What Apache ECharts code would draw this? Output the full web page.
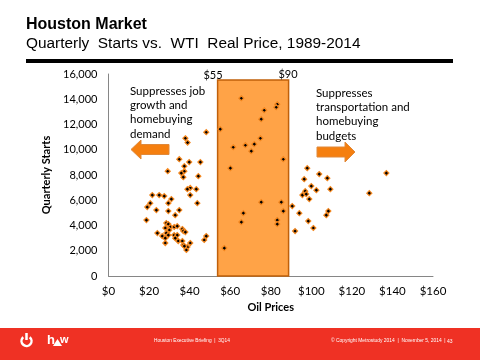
<!DOCTYPE html>
<html>
<head>
<meta charset="utf-8">
<style>html,body{margin:0;padding:0;background:#fff}#c{width:480px;height:360px}</style>
<script src="https://cdn.jsdelivr.net/npm/echarts@6/dist/echarts.min.js"></script>
</head>
<body>
<div id="c"></div>
<script>
var oilPrice = [48.2,37.9,39.0,34.9,39.8,45.3,37.4,29.2,37.4,35.9,36.9,44.3,40.3,38.9,43.3,40.3,43.8,21.6,25.0,27.5,31.0,29.5,20.6,19.1,23.6,29.5,34.9,32.9,18.7,28.5,29.5,30.5,28.0,32.4,33.9,30.0,24.1,28.5,29.5,26.5,28.0,32.4,33.9,32.9,34.4,28.0,36.4,36.9,37.9,36.4,36.9,40.3,38.9,38.4,37.4,48.2,47.2,
65.5,83.2,82.7,76.8,75.3,55.1,74.9,67.5,71.9,61.5,70.4,86.2,60.1,75.3,85.2,90.6,86.2,66.5,65.5,83.2,83.2,92.0,57.1,
98.0,103.9,107.9,137.0,96.5,100.0,102.5,109.4,97.0,95.6,97.5,128.6,99.0,94.1,108.4,107.4,98.5,101.0];
var quarterlyStarts = [11390,10910,10570,9250,9020,9020,8700,8300,8300,8150,7830,7910,6980,6880,6880,6410,5770,6410,6410,6330,6090,5770,5770,5460,5220,5140,5220,4820,4430,4190,4110,3880,3800,3880,3950,3640,3400,3400,3240,3160,3000,3240,3240,3000,2770,2610,3720,3560,3480,2770,2450,2610,2290,2060,2370,3160,2850,
14080,13600,13370,13130,12420,11630,10910,10360,10440,10200,9890,9250,8540,5850,5850,5540,5140,4980,4270,4430,4110,3560,2210,
8540,8070,7750,8150,7670,7120,6800,6880,6720,6410,6490,6560,6090,4980,5140,4820,4350,3800];
var bandStart = 53.8, bandEnd = 88.8, bandTop = 15520;
var yMax = 16000, yStep = 2000, xMax = 160, xStep = 20;
var titleText = 'Houston Market';
var subtitleText = 'Quarterly  Starts vs.  WTI  Real Price, 1989-2014';
var leftNote = ['Suppresses job','growth and','homebuying','demand'];
var rightNote = ['Suppresses','transportation and','homebuying','budgets'];
var bandLabels = ['$55','$90'];
var footerLeft = 'Houston Executive Briefing  |  3Q14';
var footerRight = '\u00A9 Copyright Metrostudy 2014  |  November 5, 2014  |';
var pageNumber = '43';

var noteFont = '11.5px Lato, sans-serif';
var ORANGE = '#F57F0F';
function txt(x,y,s,font,fill,align){
  return {type:'text',x:x,y:y,silent:true,z:20,style:{text:s,font:font,fill:fill||'#000',align:align||'left',verticalAlign:'middle'}};
}
function poly(points,fill,stroke){
  return {type:'polygon',silent:true,z:20,shape:{points:points},style:{fill:fill,stroke:stroke||null,lineWidth:stroke?1:0}};
}
var g = [
  txt(26,25,titleText,'bold 16px "Liberation Sans", Arial, sans-serif'),
  txt(26,44,subtitleText,'15.4px "Liberation Sans", Arial, sans-serif'),
  {type:'rect',silent:true,shape:{x:26,y:59,width:427,height:4},style:{fill:'#000'}},
  {type:'rect',silent:true,shape:{x:0,y:328,width:480,height:32},style:{fill:'#EF3124'}},
  {type:'arc',silent:true,shape:{cx:26.5,cy:341,r:5,startAngle:-Math.PI/2+0.7,endAngle:-Math.PI/2-0.7,clockwise:true},style:{stroke:'#fff',fill:null,lineWidth:2.5}},
  {type:'line',silent:true,shape:{x1:26.5,y1:333,x2:26.5,y2:340},style:{stroke:'#fff',lineWidth:2.5}},
  txt(47,340,'h','bold 13px "Liberation Sans", sans-serif','#fff'),
  poly([[53,346],[62,346],[57.5,339]],'#fff'),
  txt(60,340,'w','bold 11px "Liberation Sans", sans-serif','#fff'),
  txt(154,341,footerLeft,'4.8px "Liberation Sans", sans-serif','#fff'),
  txt(331,341,footerRight,'4.9px "Liberation Sans", sans-serif','#fff'),
  txt(447,342,pageNumber,'5px "Liberation Sans", sans-serif','#fff'),
  txt(213,75.5,bandLabels[0],'11px Lato, sans-serif','#000','center'),
  txt(288,74.5,bandLabels[1],'11px Lato, sans-serif','#000','center'),
  poly([[131,149.5],[141,140],[141,144.5],[169,144.5],[169,154.5],[141,154.5],[141,159]],ORANGE,'#E0893A'),
  poly([[317,147],[345,147],[345,142],[355,152],[345,162],[345,157],[317,157]],ORANGE,'#E0893A')
];
leftNote.forEach(function(s,i){g.push(txt(130,91+i*14.3,s,noteFont));});
rightNote.forEach(function(s,i){g.push(txt(316,93+i*14.3,s,noteFont));});

var axisLine = {show:true,lineStyle:{color:'#868686',width:1}};
var chart = echarts.init(document.getElementById('c'),null,{renderer:'canvas'});
chart.setOption({
  animation:false,
  backgroundColor:'#fff',
  grid:{left:108.5,right:47,top:74,bottom:84,containLabel:false},
  xAxis:{type:'value',min:0,max:xMax,interval:xStep,axisLine:axisLine,axisTick:{show:false},splitLine:{show:false},
    axisLabel:{margin:9,color:'#000',fontSize:11.5,fontFamily:'Lato',formatter:function(v){return '$'+v;}},
    name:'Oil Prices',nameLocation:'middle',nameGap:26,nameTextStyle:{color:'#000',fontSize:11,fontWeight:'bold',fontFamily:'Lato'}},
  yAxis:{type:'value',min:0,max:yMax,interval:yStep,axisLine:axisLine,axisTick:{show:false},splitLine:{show:false},
    axisLabel:{margin:11,color:'#000',fontSize:11,fontFamily:'Lato',formatter:function(v){return v.toLocaleString('en-US');}},
    name:'Quarterly Starts',nameLocation:'middle',nameGap:41,nameRotate:90,nameTextStyle:{color:'#000',fontSize:11,fontWeight:'bold',fontFamily:'Lato'}},
  series:[
    {type:'scatter',z:1,data:[],silent:true,
     markArea:{silent:true,z:1,itemStyle:{color:'#FFA347',borderColor:'#C0600A',borderWidth:1.5},
       data:[[{coord:[bandStart,0]},{coord:[bandEnd,bandTop]}]]}},
    {type:'scatter',z:5,symbol:'diamond',symbolSize:5,
     itemStyle:{color:'#000',borderColor:'#F5881F',borderWidth:1.2,opacity:1},
     data:oilPrice.map(function(x,i){return [x,quarterlyStarts[i]];})}
  ],
  graphic:{elements:g}
});
</script>
</body>
</html>
